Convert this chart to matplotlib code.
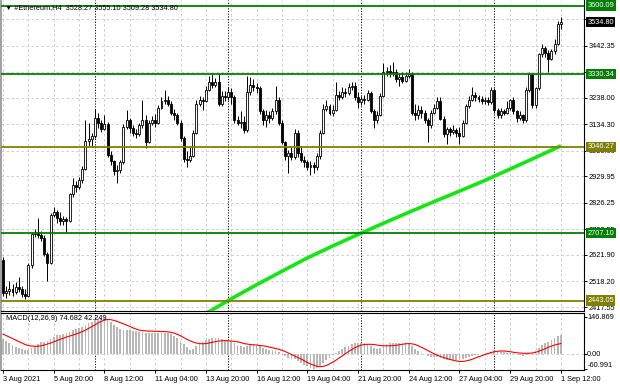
#!/usr/bin/env python3

'''
#Ethereum H4 chart, 3 Aug - 1 Sep 2021, drawn the MetaTrader way:
candles, support / resistance levels, a slow moving average
and a MACD(12,26,9) sub window.

Saved as out.png (620x388)
'''

import numpy as np
from matplotlib import pyplot as plt
from matplotlib import transforms

# ---- candles, one per H4 bar (bar 0 = 3 Aug 04:00, bar 176 = 1 Sep 12:00)
OPENS = [
    2602, 2472, 2482, 2490, 2476, 2496, 2488, 2468, 2462, 2582,
    2705, 2712, 2700, 2688, 2625, 2592, 2780, 2790, 2768, 2755,
    2762, 2756, 2860, 2895, 2890, 2915, 2960, 3070, 3075, 3090,
    3160, 3140, 3115, 3135, 3015, 2990, 2950, 2955, 2985, 3125,
    3150, 3120, 3100, 3095, 3130, 3150, 3065, 3140, 3150, 3140,
    3200, 3225, 3230, 3215, 3180, 3170, 3140, 3080, 3000, 2995,
    3010, 3100, 3215, 3230, 3225, 3270, 3300, 3290, 3300, 3215,
    3245, 3240, 3260, 3240, 3150, 3140, 3145, 3110, 3260, 3290,
    3280, 3275, 3185, 3150, 3170, 3160, 3185, 3230, 3140, 3065,
    3010, 3020, 3005, 3100, 3020, 2995, 2985, 2965, 2975, 2965,
    3010, 3100, 3195, 3205, 3180, 3190, 3250, 3240, 3260, 3255,
    3280, 3285, 3240, 3220, 3235, 3230, 3255, 3185, 3150, 3170,
    3245, 3340, 3345, 3335, 3340, 3310, 3320, 3305, 3325, 3330,
    3180, 3170, 3190, 3180, 3150, 3130, 3180, 3200, 3225, 3155,
    3095, 3115, 3105, 3110, 3100, 3090, 3140, 3205, 3230, 3250,
    3240, 3235, 3225, 3230, 3220, 3270, 3190, 3170, 3185, 3180,
    3200, 3230, 3185, 3160, 3170, 3150, 3270, 3330, 3210, 3275,
    3410, 3435, 3415, 3390, 3420, 3450, 3528.27,
]
HIGHS = [
    2612, 2500, 2518, 2508, 2515, 2536, 2500, 2490, 2590, 2712,
    2722, 2765, 2715, 2700, 2632, 2786, 2810, 2800, 2790, 2776,
    2772, 2866, 2925, 2912, 2926, 2970, 3150, 3140, 3100, 3195,
    3180, 3150, 3170, 3145, 3030, 2995, 2975, 2995, 3135, 3190,
    3160, 3130, 3115, 3140, 3230, 3170, 3150, 3165, 3175, 3210,
    3240, 3270, 3245, 3225, 3195, 3180, 3150, 3090, 3030, 3045,
    3110, 3230, 3245, 3240, 3285, 3325, 3330, 3315, 3332, 3265,
    3265, 3280, 3275, 3250, 3165, 3185, 3165, 3325, 3320, 3310,
    3295, 3285, 3195, 3190, 3185, 3200, 3285, 3240, 3150, 3070,
    3035, 3045, 3115, 3110, 3050, 3010, 2995, 2990, 2985, 3020,
    3110, 3215, 3230, 3215, 3210, 3300, 3265, 3280, 3275, 3295,
    3300, 3300, 3260, 3245, 3250, 3270, 3265, 3195, 3185, 3255,
    3375, 3360, 3365, 3380, 3350, 3335, 3340, 3340, 3350, 3340,
    3215, 3210, 3205, 3190, 3160, 3190, 3215, 3240, 3240, 3165,
    3125, 3125, 3130, 3120, 3125, 3150, 3215, 3245, 3280, 3260,
    3250, 3245, 3240, 3240, 3280, 3275, 3200, 3200, 3195, 3225,
    3235, 3240, 3190, 3185, 3175, 3280, 3340, 3335, 3280, 3415,
    3450, 3440, 3425, 3430, 3470, 3540, 3555.10,
]
LOWS = [
    2462, 2452, 2466, 2460, 2470, 2475, 2455, 2450, 2455, 2572,
    2694, 2690, 2675, 2618, 2520, 2585, 2770, 2748, 2740, 2740,
    2708, 2750, 2850, 2870, 2880, 2905, 2955, 3050, 3045, 3080,
    3120, 3105, 3110, 3005, 2975, 2935, 2905, 2945, 2980, 3115,
    3100, 3090, 3080, 3090, 3120, 3040, 3060, 3130, 3125, 3135,
    3195, 3215, 3205, 3170, 3150, 3130, 3070, 2985, 2968, 2985,
    3005, 3095, 3205, 3190, 3220, 3265, 3275, 3280, 3205, 3205,
    3225, 3230, 3215, 3140, 3130, 3120, 3100, 3105, 3250, 3265,
    3255, 3175, 3130, 3125, 3140, 3150, 3175, 3130, 3055, 2995,
    2945, 2995, 3000, 3005, 2985, 2965, 2955, 2935, 2945, 2955,
    3000, 3095, 3185, 3170, 3165, 3185, 3230, 3235, 3240, 3250,
    3270, 3230, 3200, 3210, 3215, 3225, 3180, 3120, 3140, 3165,
    3240, 3325, 3320, 3325, 3300, 3285, 3295, 3300, 3315, 3170,
    3150, 3155, 3160, 3140, 3065, 3120, 3175, 3195, 3150, 3085,
    3055, 3090, 3095, 3085, 3055, 3085, 3135, 3200, 3225, 3225,
    3220, 3215, 3215, 3210, 3215, 3180, 3160, 3160, 3170, 3175,
    3190, 3175, 3145, 3150, 3140, 3145, 3260, 3200, 3200, 3270,
    3400, 3400, 3340, 3385, 3410, 3445, 3509.28,
]
CLOSES = [
    2472, 2482, 2490, 2476, 2496, 2488, 2468, 2462, 2582, 2705,
    2712, 2700, 2688, 2625, 2592, 2780, 2790, 2768, 2755, 2762,
    2756, 2860, 2895, 2890, 2915, 2960, 3070, 3075, 3090, 3160,
    3140, 3115, 3135, 3015, 2990, 2950, 2955, 2985, 3125, 3150,
    3120, 3100, 3095, 3130, 3150, 3065, 3140, 3150, 3140, 3200,
    3225, 3230, 3215, 3180, 3170, 3140, 3080, 3000, 2995, 3010,
    3100, 3215, 3230, 3225, 3270, 3300, 3290, 3300, 3215, 3245,
    3240, 3260, 3240, 3150, 3140, 3145, 3110, 3260, 3290, 3280,
    3275, 3185, 3150, 3170, 3160, 3185, 3230, 3140, 3065, 3010,
    3020, 3005, 3100, 3020, 2995, 2985, 2965, 2975, 2965, 3010,
    3100, 3195, 3205, 3180, 3190, 3250, 3240, 3260, 3255, 3280,
    3285, 3240, 3220, 3235, 3230, 3255, 3185, 3150, 3170, 3245,
    3340, 3345, 3335, 3340, 3310, 3320, 3305, 3325, 3330, 3180,
    3170, 3190, 3180, 3150, 3130, 3180, 3200, 3225, 3155, 3095,
    3115, 3105, 3110, 3100, 3090, 3140, 3205, 3230, 3250, 3240,
    3235, 3225, 3230, 3220, 3270, 3190, 3170, 3185, 3180, 3200,
    3230, 3185, 3160, 3170, 3150, 3270, 3330, 3210, 3275, 3410,
    3435, 3415, 3390, 3420, 3450, 3528.27, 3534.80,
]

# ---- MACD(12,26,9): main (histogram) and signal, one per bar
MACD_MAIN = [
    59, 51, 43, 36, 30, 24, 19, 15, 16, 24,
    33, 41, 47, 50, 52, 62, 70, 75, 78, 81,
    83, 89, 95, 99, 103, 108, 117, 124, 129, 136,
    140, 143, 146.869, 138, 129, 118, 108, 100, 98, 98,
    96, 94, 92, 90, 89, 84, 84, 84, 83, 84,
    85, 85, 83, 79, 73, 65, 54, 40, 27, 18,
    20, 31, 41, 49, 55, 60, 63, 66, 64, 61,
    58, 56, 52, 44, 36, 31, 27, 33, 39, 40,
    38, 32, 26, 22, 18, 15, 14, 8, 0, -8,
    -15, -20, -22, -29, -37, -44, -50, -55, -60.991, -58,
    -50, -38, -26, -15, -4, 6, 13, 20, 27, 34,
    40, 44, 46, 45, 43, 40, 33, 25, 21, 24,
    33, 40, 43, 45, 45, 44, 43, 43, 44, 32,
    20, 12, 5, -2, -8, -11, -12, -13, -16, -20,
    -23, -25, -25, -25, -24, -22, -18, -13, -9, -6,
    -3, -1, 2, 5, 10, 12, 12, 10, 8, 6,
    5, 3, 0, -3, -7, -3, 5, 6, 12, 25,
    36, 44, 50, 57, 64, 71, 74.682,
]
MACD_SIGNAL = [
    80, 74, 68, 62, 56, 50, 44, 38, 34, 32,
    31, 31, 33, 36, 40, 44, 49, 54, 59, 63,
    68, 72, 76, 80, 85, 90, 96, 103, 110, 117,
    125, 131, 136, 139, 138, 135, 131, 126, 121, 116,
    111, 105, 100, 96, 94, 93, 92, 92, 91, 91,
    90, 90, 89, 87, 84, 79, 73, 66, 59, 53,
    48, 44, 42, 41, 42, 44, 47, 50, 52, 53,
    54, 53, 52, 51, 49, 46, 42, 40, 38, 37,
    36, 34, 33, 31, 28, 25, 22, 19, 15, 10,
    4, -2, -8, -14, -20, -27, -34, -40, -45, -49,
    -51, -50, -46, -40, -33, -25, -16, -8, 1, 10,
    18, 25, 31, 36, 38, 39, 39, 38, 36, 34,
    33, 33, 33, 34, 35, 37, 39, 41, 42, 41,
    38, 33, 27, 21, 14, 7, 1, -5, -10, -14,
    -18, -22, -25, -28, -30, -30, -28, -25, -21, -16,
    -11, -7, -2, 2, 6, 9, 11, 12, 12, 11,
    9, 7, 5, 4, 3, 3, 3, 4, 7, 11,
    16, 21, 27, 32, 36, 39, 42.249,
]

# ---- slow moving average (only visible from 13 Aug)
MA_BARS = [64, 72, 80, 88, 96, 104, 112, 120, 128, 136, 144, 152, 160, 168, 176]
MA_VALUES = [2392, 2450, 2505, 2558, 2610, 2657, 2702, 2746, 2789,
             2831, 2872, 2914, 2959, 3004, 3050]

# ---- axes texts
PRICE_TICKS = [3546.05, 3442.35, 3340.05, 3238.00, 3134.30, 3030.60,
               2929.95, 2826.25, 2722.55, 2621.90, 2518.20, 2417.55]
PRICE_TICK_LABELS = ['', '3442.35', '', '3238.00', '3134.30', '3030.60',
                     '2929.95', '2826.25', '2722.55', '2621.90', '2518.20', '2417.55']
MACD_TICKS = [146.869, 0.0, -60.991]
MACD_TICK_LABELS = ['146.869', '0.00', '-60.991']
TIME_TICK_BARS = [0, 16, 32, 48, 64, 80, 96, 112, 128, 144, 160, 176]
TIME_TICK_LABELS = ['3 Aug 2021', '5 Aug 20:00', '8 Aug 12:00', '11 Aug 04:00',
                    '13 Aug 20:00', '16 Aug 12:00', '19 Aug 04:00', '21 Aug 20:00',
                    '24 Aug 12:00', '27 Aug 04:00', '29 Aug 20:00', '1 Sep 12:00']
WEEK_SEPARATOR_BARS = [29, 71, 113, 155]

LEVELS = [
    {'price': 3600.09, 'label': '3600.09', 'color': '#008000'},
    {'price': 3330.34, 'label': '3330.34', 'color': '#008000'},
    {'price': 3046.27, 'label': '3046.27', 'color': '#808000'},
    {'price': 2707.10, 'label': '2707.10', 'color': '#008000'},
    {'price': 2443.05, 'label': '2443.05', 'color': '#808000'},
]
LAST_PRICE = 3534.80
HEADER = '\u25bc #Ethereum,H4  3528.27 3555.10 3509.28 3534.80'
MACD_HEADER = 'MACD(12,26,9) 74.682 42.249'

W, H = 620, 388
FONT = ['Liberation Sans', 'DejaVu Sans']
FS = 5.3
GRID = dict(color='#c8c8c8', lw=0.6, ls=(0, (3, 3)), zorder=0.5)
SEP = dict(color='black', lw=0.7, ls=(0, (1.2, 1.6)), zorder=0.8)


def fig_rect(left, top, right, bottom):
    '''pixel box -> figure fraction [l, b, w, h]'''
    return [left / W, 1 - bottom / H, (right - left) / W, (bottom - top) / H]


def style_axes(ax):
    ax.spines['top'].set_visible(False)
    ax.spines['left'].set_color('#a0a0a0')
    ax.spines['left'].set_linewidth(1.4)
    for side in ('right', 'bottom'):
        ax.spines[side].set_color('black')
        ax.spines[side].set_linewidth(0.8)
    ax.set_xlim(-0.63, 183.28)
    ax.yaxis.tick_right()
    ax.tick_params(axis='y', length=2.2, width=0.7, pad=1.0,
                   labelsize=FS, colors='black')
    for x in range(0, 177, 8):
        ax.axvline(x, **GRID)
    for x in WEEK_SEPARATOR_BARS:
        ax.axvline(x, **SEP)


def plot_candles(ax):
    x = np.arange(len(CLOSES))
    o, h, l, c = map(np.asarray, (OPENS, HIGHS, LOWS, CLOSES))
    ax.vlines(x, l, h, color='black', lw=0.7, zorder=3)
    up = c >= o
    ax.bar(x[up], (c - o)[up], bottom=o[up], width=0.62,
           facecolor='white', edgecolor='black', linewidth=0.6, zorder=3.2)
    ax.bar(x[~up], (c - o)[~up], bottom=o[~up], width=0.62,
           facecolor='black', edgecolor='black', linewidth=0.6, zorder=3.2)


def price_box(ax, price, text, color):
    trans = transforms.blended_transform_factory(ax.transAxes, ax.transData)
    ax.text(1.0055, price, text, transform=trans, fontsize=FS, family=FONT,
            color='white', va='center', ha='left', clip_on=False, zorder=6,
            bbox=dict(boxstyle='square,pad=0.22', fc=color, ec='none'))


if __name__ == '__main__':
    fig = plt.figure(figsize=(W / 100, H / 100), dpi=100)
    plt.rcParams['font.family'] = FONT

    # main window
    ax = fig.add_axes(fig_rect(1, 0, 584, 310.7))
    style_axes(ax)
    ax.set_ylim(2403.1, 3621.7)
    for p in PRICE_TICKS:
        ax.axhline(p, **GRID)
    ax.set_yticks(PRICE_TICKS)
    ax.set_yticklabels(PRICE_TICK_LABELS)
    ax.set_xticks([])

    plot_candles(ax)
    ax.plot(MA_BARS, MA_VALUES, color='#14e614', lw=2.6,
            solid_capstyle='butt', zorder=3.5)

    for level in LEVELS:
        ax.axhline(level['price'], color=level['color'], lw=1.3, zorder=4)
        price_box(ax, level['price'], level['label'], level['color'])
    price_box(ax, LAST_PRICE, f'{LAST_PRICE:.2f}', 'black')

    # MACD window
    ax2 = fig.add_axes(fig_rect(1, 312.7, 584, 370))
    style_axes(ax2)
    ax2.spines['top'].set_visible(True)
    ax2.spines['top'].set_color('black')
    ax2.spines['top'].set_linewidth(0.8)
    ax2.set_ylim(-64.3, 166.0)
    ax2.axhline(0, **GRID)
    bars = np.arange(len(MACD_MAIN))
    ax2.bar(bars, MACD_MAIN, width=0.55, color='#b8b8b8', zorder=2)
    ax2.plot(bars, MACD_SIGNAL, color='red', lw=0.8, zorder=3)
    ax2.set_yticks(MACD_TICKS)
    ax2.set_yticklabels([])
    trans2 = transforms.blended_transform_factory(ax2.transAxes, ax2.transData)
    for value, label in zip(MACD_TICKS, MACD_TICK_LABELS):
        va = 'bottom' if value < 0 else 'center'
        ax2.text(1.0055, value, label, transform=trans2, fontsize=FS,
                 va=va, ha='left', clip_on=False)

    ax2.set_xticks(TIME_TICK_BARS)
    ax2.set_xticklabels(TIME_TICK_LABELS, ha='left')
    ax2.tick_params(axis='x', length=2.4, width=0.7, pad=1.6,
                    labelsize=FS, colors='black')

    fig.text(5 / W, 1 - 7.5 / H, HEADER, fontsize=FS, va='center', zorder=10)
    fig.text(6 / W, 1 - 318 / H, MACD_HEADER, fontsize=FS, va='center', zorder=10)

    fig.savefig('out.png', dpi=100)
